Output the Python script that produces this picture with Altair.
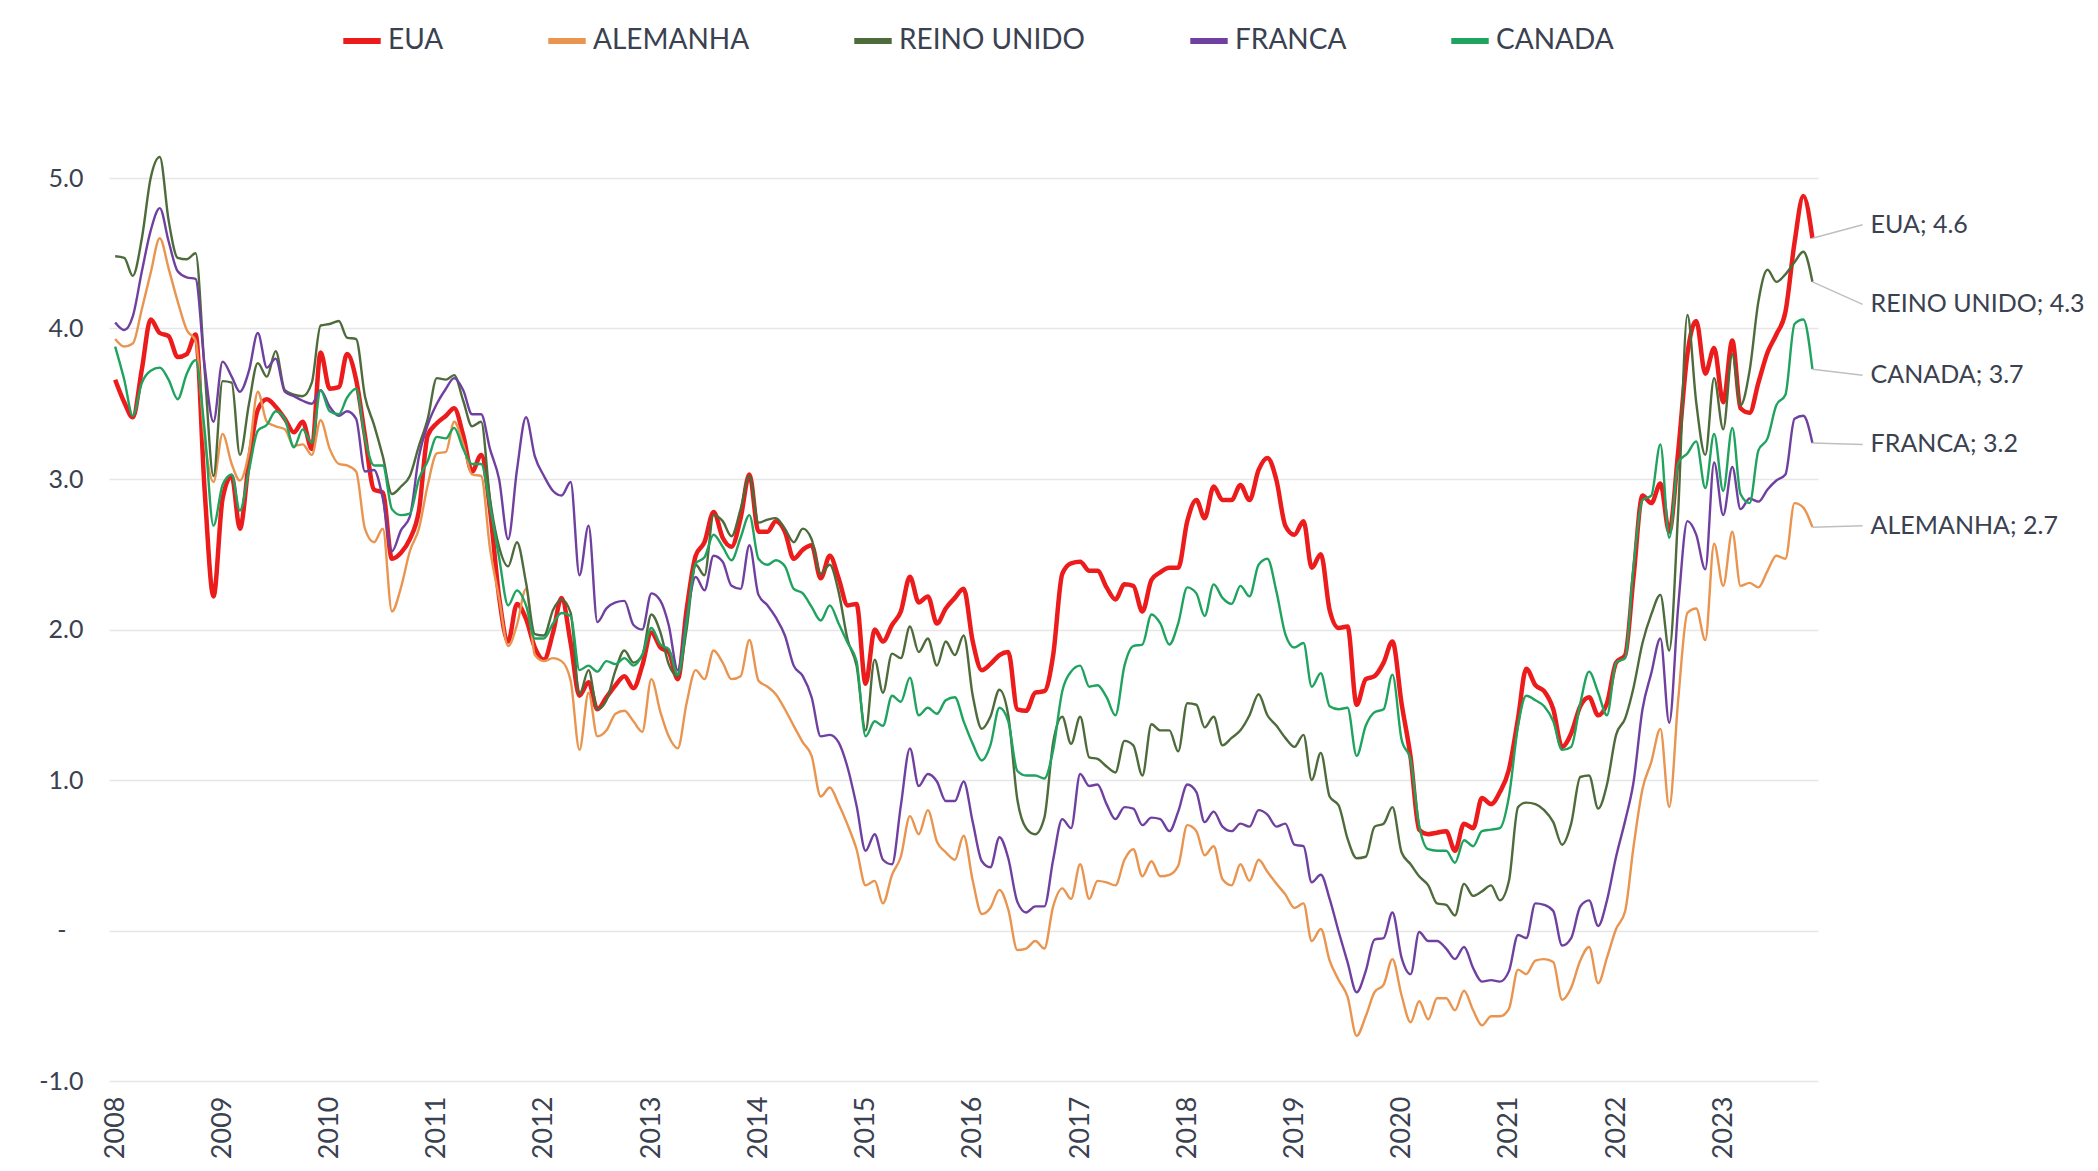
import altair as alt
import pandas as pd

# ---------------- data (month-end 10y yields, Jan-2008 .. Nov-2023) ----------------
COUNTRIES = ["EUA", "ALEMANHA", "REINO UNIDO", "FRANCA", "CANADA"]
COLORS = ["#EC1C1C", "#E9944F", "#4E6B3B", "#7040A0", "#1FA35F"]
WIDTHS = [4.5, 2.4, 2.4, 2.4, 2.4]

EUA = [
    3.66, 3.51, 3.41, 3.73, 4.06, 3.97, 3.95, 3.81, 3.83, 3.96, 2.92, 2.22,
    2.87, 3.02, 2.67, 3.12, 3.46, 3.53, 3.48, 3.40, 3.31, 3.38, 3.20, 3.84,
    3.60, 3.61, 3.83, 3.66, 3.29, 2.93, 2.91, 2.47, 2.51, 2.60, 2.79, 3.29,
    3.37, 3.42, 3.47, 3.29, 3.05, 3.16, 2.80, 2.22, 1.92, 2.17, 2.07, 1.88,
    1.80, 1.98, 2.21, 1.91, 1.56, 1.65, 1.47, 1.55, 1.63, 1.69, 1.61, 1.76,
    1.98, 1.88, 1.85, 1.67, 2.13, 2.49, 2.58, 2.78, 2.61, 2.55, 2.74, 3.03,
    2.65, 2.65, 2.72, 2.65, 2.47, 2.53, 2.56, 2.34, 2.49, 2.34, 2.16, 2.17,
    1.64, 2.00, 1.92, 2.03, 2.12, 2.35, 2.18, 2.22, 2.04, 2.14, 2.21, 2.27,
    1.92, 1.73, 1.77, 1.83, 1.85, 1.47, 1.46, 1.58, 1.59, 1.83, 2.37, 2.44,
    2.45, 2.39, 2.39, 2.28, 2.20, 2.30, 2.29, 2.12, 2.33, 2.38, 2.41, 2.41,
    2.72, 2.86, 2.74, 2.95, 2.86, 2.86, 2.96, 2.86, 3.06, 3.14, 2.99, 2.69,
    2.63, 2.72, 2.41, 2.50, 2.13, 2.01, 2.02, 1.50, 1.67, 1.69, 1.78, 1.92,
    1.51, 1.15, 0.67, 0.64, 0.65, 0.66, 0.53, 0.71, 0.68, 0.88, 0.84, 0.92,
    1.07, 1.41, 1.74, 1.63, 1.59, 1.47, 1.22, 1.31, 1.49, 1.55, 1.43, 1.51,
    1.78, 1.83, 2.34, 2.89, 2.84, 2.97, 2.65, 3.19, 3.83, 4.05, 3.70, 3.87,
    3.51, 3.92, 3.47, 3.44, 3.64, 3.84, 3.96, 4.11, 4.57, 4.88, 4.60,
]

ALEMANHA = [
    3.93, 3.88, 3.90, 4.13, 4.37, 4.60, 4.40, 4.18, 3.99, 3.92, 3.26, 2.98,
    3.30, 3.10, 2.99, 3.18, 3.58, 3.38, 3.35, 3.33, 3.22, 3.23, 3.16, 3.39,
    3.20, 3.10, 3.09, 3.05, 2.67, 2.58, 2.67, 2.12, 2.28, 2.52, 2.67, 2.96,
    3.17, 3.18, 3.38, 3.23, 3.03, 3.02, 2.54, 2.21, 1.89, 2.03, 2.27, 1.83,
    1.79, 1.81, 1.79, 1.66, 1.20, 1.58, 1.29, 1.33, 1.44, 1.46, 1.39, 1.32,
    1.67, 1.45, 1.29, 1.21, 1.51, 1.73, 1.67, 1.86, 1.78, 1.67, 1.69, 1.93,
    1.66, 1.62, 1.57, 1.47, 1.36, 1.25, 1.16, 0.89, 0.95, 0.84, 0.70, 0.54,
    0.30, 0.33, 0.18, 0.37, 0.49, 0.76, 0.64, 0.80, 0.59, 0.52, 0.47, 0.63,
    0.33, 0.11, 0.15, 0.27, 0.14, -0.13, -0.12, -0.07, -0.12, 0.16, 0.28, 0.21,
    0.44, 0.21, 0.33, 0.32, 0.30, 0.47, 0.54, 0.36, 0.46, 0.36, 0.37, 0.43,
    0.70, 0.66, 0.50, 0.56, 0.34, 0.30, 0.44, 0.33, 0.47, 0.39, 0.31, 0.24,
    0.15, 0.18, -0.07, 0.01, -0.20, -0.33, -0.44, -0.70, -0.57, -0.41, -0.36, -0.19,
    -0.43, -0.61, -0.47, -0.59, -0.45, -0.45, -0.53, -0.40, -0.53, -0.63, -0.57, -0.57,
    -0.52, -0.26, -0.29, -0.20, -0.19, -0.21, -0.46, -0.38, -0.20, -0.11, -0.35, -0.18,
    0.01, 0.13, 0.55, 0.94, 1.12, 1.34, 0.82, 1.54, 2.11, 2.14, 1.93, 2.57,
    2.29, 2.65, 2.29, 2.31, 2.28, 2.39, 2.49, 2.47, 2.84, 2.81, 2.68,
]

REINO_UNIDO = [
    4.48, 4.47, 4.35, 4.60, 5.00, 5.14, 4.72, 4.47, 4.46, 4.50, 3.72, 3.02,
    3.65, 3.64, 3.16, 3.50, 3.77, 3.68, 3.85, 3.59, 3.56, 3.55, 3.64, 4.02,
    4.03, 4.05, 3.94, 3.93, 3.55, 3.36, 3.15, 2.90, 2.95, 3.02, 3.22, 3.40,
    3.67, 3.66, 3.69, 3.52, 3.35, 3.38, 2.87, 2.55, 2.42, 2.58, 2.31, 1.97,
    1.96, 2.13, 2.20, 2.11, 1.57, 1.73, 1.47, 1.53, 1.73, 1.86, 1.78, 1.83,
    2.10, 1.98, 1.77, 1.69, 2.00, 2.43, 2.36, 2.76, 2.72, 2.62, 2.80, 3.02,
    2.71, 2.73, 2.74, 2.67, 2.58, 2.67, 2.60, 2.37, 2.43, 2.25, 1.93, 1.76,
    1.33, 1.80, 1.58, 1.84, 1.81, 2.02, 1.85, 1.94, 1.76, 1.92, 1.83, 1.96,
    1.56, 1.34, 1.42, 1.60, 1.43, 0.87, 0.68, 0.64, 0.75, 1.25, 1.42, 1.24,
    1.42, 1.15, 1.14, 1.09, 1.05, 1.26, 1.23, 1.03, 1.37, 1.33, 1.33, 1.19,
    1.51, 1.50, 1.35, 1.42, 1.23, 1.28, 1.33, 1.43, 1.57, 1.43, 1.36, 1.28,
    1.22, 1.30, 1.00, 1.18, 0.89, 0.83, 0.61, 0.48, 0.49, 0.69, 0.71, 0.82,
    0.52, 0.44, 0.36, 0.30, 0.18, 0.17, 0.10, 0.31, 0.23, 0.26, 0.30, 0.20,
    0.33, 0.82, 0.85, 0.84, 0.80, 0.72, 0.57, 0.71, 1.02, 1.03, 0.81, 0.97,
    1.30, 1.41, 1.61, 1.91, 2.10, 2.23, 1.86, 2.80, 4.09, 3.51, 3.16, 3.67,
    3.33, 3.83, 3.49, 3.72, 4.18, 4.39, 4.31, 4.36, 4.44, 4.51, 4.31,
]

FRANCA = [
    4.04, 3.99, 4.08, 4.38, 4.65, 4.80, 4.58, 4.38, 4.34, 4.33, 3.75, 3.38,
    3.78, 3.68, 3.58, 3.72, 3.97, 3.74, 3.80, 3.58, 3.55, 3.52, 3.50, 3.59,
    3.48, 3.42, 3.45, 3.40, 3.05, 3.06, 2.87, 2.52, 2.66, 2.75, 3.15, 3.36,
    3.50, 3.60, 3.67, 3.59, 3.43, 3.43, 3.20, 3.00, 2.60, 3.06, 3.41, 3.15,
    3.02, 2.92, 2.89, 2.98, 2.36, 2.69, 2.05, 2.14, 2.18, 2.19, 2.03, 2.00,
    2.24, 2.19, 2.03, 1.73, 2.08, 2.35, 2.26, 2.49, 2.45, 2.29, 2.27, 2.56,
    2.23, 2.16, 2.08, 1.96, 1.76, 1.69, 1.55, 1.29, 1.30, 1.25, 1.08, 0.83,
    0.53, 0.64, 0.47, 0.44, 0.83, 1.21, 0.96, 1.04, 0.99, 0.86, 0.86, 0.99,
    0.72, 0.46, 0.42, 0.62, 0.48, 0.19, 0.12, 0.16, 0.16, 0.47, 0.74, 0.68,
    1.04, 0.96, 0.97, 0.84, 0.74, 0.82, 0.81, 0.70, 0.75, 0.74, 0.66, 0.79,
    0.97, 0.92, 0.72, 0.79, 0.69, 0.66, 0.71, 0.69, 0.80, 0.77, 0.69, 0.71,
    0.57, 0.56, 0.32, 0.37, 0.21, -0.01, -0.21, -0.41, -0.27, -0.06, -0.05, 0.12,
    -0.18, -0.29, -0.01, -0.07, -0.07, -0.12, -0.19, -0.11, -0.25, -0.34, -0.33, -0.34,
    -0.27, -0.03, -0.05, 0.18, 0.17, 0.13, -0.10, -0.05, 0.16, 0.20, 0.03, 0.20,
    0.49, 0.73, 0.98, 1.47, 1.71, 1.94, 1.38, 2.16, 2.72, 2.63, 2.40, 3.11,
    2.76, 3.08, 2.80, 2.87, 2.85, 2.93, 2.99, 3.03, 3.40, 3.42, 3.24,
]

CANADA = [
    3.88, 3.66, 3.42, 3.64, 3.72, 3.74, 3.66, 3.53, 3.70, 3.79, 3.32, 2.69,
    2.96, 3.03, 2.79, 3.06, 3.32, 3.36, 3.45, 3.40, 3.21, 3.33, 3.24, 3.59,
    3.45, 3.43, 3.54, 3.60, 3.27, 3.09, 3.09, 2.80, 2.76, 2.77, 3.00, 3.12,
    3.28, 3.27, 3.34, 3.20, 3.10, 3.10, 2.82, 2.48, 2.16, 2.26, 2.16, 1.94,
    1.94, 2.04, 2.11, 2.09, 1.73, 1.76, 1.72, 1.79, 1.77, 1.81, 1.76, 1.83,
    2.01, 1.90, 1.87, 1.70, 2.05, 2.44, 2.48, 2.63, 2.55, 2.46, 2.61, 2.76,
    2.47, 2.43, 2.46, 2.42, 2.27, 2.24, 2.15, 2.06, 2.16, 2.04, 1.91, 1.79,
    1.29, 1.39, 1.36, 1.56, 1.52, 1.68, 1.43, 1.48, 1.44, 1.53, 1.55, 1.39,
    1.24, 1.13, 1.23, 1.48, 1.39, 1.06, 1.03, 1.03, 1.01, 1.20, 1.59, 1.72,
    1.76, 1.62, 1.63, 1.55, 1.43, 1.76, 1.89, 1.90, 2.10, 2.04, 1.90, 2.04,
    2.28, 2.24, 2.09, 2.30, 2.21, 2.17, 2.29, 2.22, 2.43, 2.47, 2.25, 1.97,
    1.88, 1.91, 1.62, 1.71, 1.49, 1.47, 1.48, 1.16, 1.36, 1.45, 1.47, 1.70,
    1.27, 1.13, 0.70, 0.54, 0.53, 0.53, 0.45, 0.60, 0.56, 0.66, 0.67, 0.68,
    0.89, 1.36, 1.56, 1.53, 1.49, 1.39, 1.20, 1.22, 1.51, 1.72, 1.58, 1.43,
    1.78, 1.81, 2.41, 2.86, 2.89, 3.23, 2.61, 3.11, 3.17, 3.25, 2.94, 3.30,
    2.92, 3.34, 2.90, 2.84, 3.19, 3.27, 3.49, 3.56, 4.03, 4.06, 3.73,
]

SERIES = [EUA, ALEMANHA, REINO_UNIDO, FRANCA, CANADA]

# end-of-line labels
LABEL_TEXT = ["EUA; 4.6", "ALEMANHA; 2.7", "REINO UNIDO; 4.3", "FRANCA; 3.2", "CANADA; 3.7"]
LABEL_Y = [4.69, 2.69, 4.16, 3.23, 3.69]
LABEL_ANCHOR_DATE = "2024-04-20T00:00:00"

YEAR_TICKS = list(range(2008, 2024))
Y_TICKS = [-1, 0, 1, 2, 3, 4, 5]

# ---------------- build tables ----------------
dates = pd.date_range("2008-01-01", periods=len(EUA), freq="MS")
date_str = [d.strftime("%Y-%m-%dT00:00:00") for d in dates]

frames = []
for name, vals in zip(COUNTRIES, SERIES):
    frames.append(pd.DataFrame({"date": date_str, "country": name, "value": vals}))
df = pd.concat(frames, ignore_index=True)

lab = pd.DataFrame({
    "country": COUNTRIES,
    "date_end": [date_str[-1]] * len(COUNTRIES),
    "value_end": [s[-1] for s in SERIES],
    "date_lab": [LABEL_ANCHOR_DATE] * len(COUNTRIES),
    "y_lab": LABEL_Y,
    "text": LABEL_TEXT,
})

FONT = "Lato"
TXT = "#3A4150"

x_scale = alt.Scale(domain=["2007-12-11T00:00:00", "2023-11-20T00:00:00"])
y_scale = alt.Scale(domain=[-1, 5], nice=False, zero=False)

x_axis = alt.Axis(
    values=[alt.DateTime(year=y, month=1, date=1) for y in YEAR_TICKS],
    format="%Y", labelAngle=-90, labelFlush=False, labelOverlap=False,
    grid=False, domain=False, ticks=False, tickSize=0,
    labelFontSize=27, labelFont=FONT, labelColor=TXT, labelPadding=15, title=None,
)
y_axis = alt.Axis(
    values=Y_TICKS,
    labelExpr="datum.value == 0 ? '-' : (datum.value < 0 ? '-' + format(-datum.value, '.1f') : format(datum.value, '.1f'))",
    grid=True, gridColor="#E6E6E6", gridWidth=1.6,
    domain=False, ticks=False, tickSize=0,
    labelFontSize=25, labelFont=FONT, labelColor=TXT,
    labelPadding={"condition": {"test": "datum.value == 0", "value": 43}, "value": 26},
    title=None,
)

color_enc = alt.Color(
    "country:N",
    scale=alt.Scale(domain=COUNTRIES, range=COLORS),
    legend=alt.Legend(
        orient="none", legendX=231, legendY=-159, direction="horizontal",
        title=None, symbolType="stroke", symbolSize=1400, symbolStrokeWidth=6,
        labelFontSize=28, labelFont=FONT, labelColor=TXT, labelOffset=4,
        columnPadding=92, labelLimit=400,
    ),
)

layers = []
for name, w in zip(COUNTRIES, WIDTHS):
    layers.append(
        alt.Chart(df[df["country"] == name])
        .mark_line(interpolate="monotone", strokeWidth=w)
        .encode(
            x=alt.X("date:T", scale=x_scale, axis=x_axis),
            y=alt.Y("value:Q", scale=y_scale, axis=y_axis),
            color=color_enc,
        )
    )

leaders = alt.Chart(lab).mark_rule(color="#BFBFBF", strokeWidth=1.5).encode(
    x=alt.X("date_end:T", scale=x_scale),
    y=alt.Y("value_end:Q", scale=y_scale),
    x2="date_lab:T",
    y2="y_lab:Q",
)
texts = alt.Chart(lab).mark_text(
    align="left", baseline="middle", dx=8, fontSize=25, font=FONT, color=TXT
).encode(
    x=alt.X("date_lab:T", scale=x_scale),
    y=alt.Y("y_lab:Q", scale=y_scale),
    text="text:N",
)

chart = (
    alt.layer(*layers, leaders, texts)
    .properties(
        width=1709, height=903,
        autosize=alt.AutoSizeParams(type="none"),
        padding={"left": 101, "top": 170, "right": 272, "bottom": 82},
        background="white",
    )
    .configure_view(stroke=None)
)

chart.save("out.html", embed_options={"renderer": "svg", "actions": False})
